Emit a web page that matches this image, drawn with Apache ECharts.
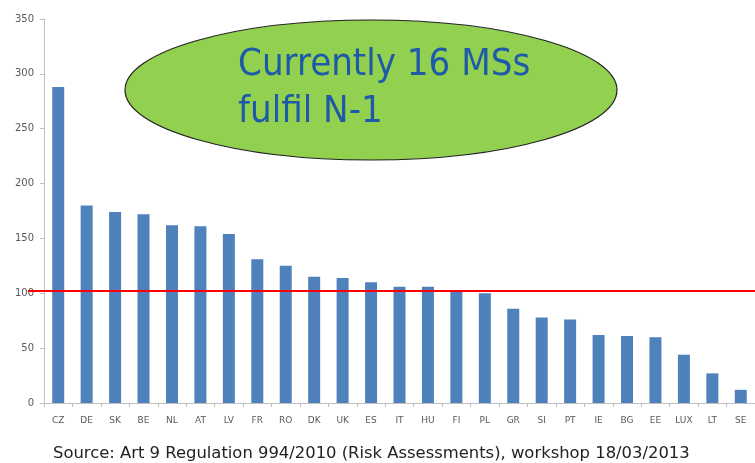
<!DOCTYPE html>
<html><head><meta charset="utf-8">
<script src="https://cdn.jsdelivr.net/npm/echarts@6/dist/echarts.min.js"></script>
<style>html,body{margin:0;padding:0;background:#fff}#c{width:755px;height:463px}</style>
</head><body><div id="c"></div>
<script>
const categories = ["CZ","DE","SK","BE","NL","AT","LV","FR","RO","DK","UK","ES","IT","HU","FI","PL","GR","SI","PT","IE","BG","EE","LUX","LT","SE"];
const values = [288,180,174,172,162,161,154,131,125,115,114,110,106,106,103,100,86,78,76,62,61,60,44,27,12];
const threshold = 102;
const yTicks = [0,50,100,150,200,250,300,350];
const noteLines = ["Currently 16 MSs","fulfil N-1"];
const sourceText = "Source: Art 9 Regulation 994/2010 (Risk Assessments), workshop 18/03/2013";

const chart = echarts.init(document.getElementById('c'), null, {renderer:'canvas'});
const wide = '"DejaVu Sans", Verdana, sans-serif';
const cond = '"DejaVu Sans Condensed", "DejaVu Sans", sans-serif';
chart.setOption({
  animation:false,
  grid:[
    {left:44, top:19, width:715, bottom:60, containLabel:false},
    {left:28, top:19, right:0, bottom:60, containLabel:false}
  ],
  xAxis:[
    {type:'category', data:categories, gridIndex:0,
     axisLine:{lineStyle:{color:'#BFBFBF'}},
     axisTick:{show:true, alignWithLabel:false, length:4, lineStyle:{color:'#BFBFBF'}},
     axisLabel:{color:'#595959', fontSize:9, fontFamily:wide, margin:13, interval:0}},
    {type:'value', gridIndex:1, min:0, max:1, show:false}
  ],
  yAxis:[
    {type:'value', gridIndex:0, min:yTicks[0], max:yTicks[yTicks.length-1], interval:50,
     axisLine:{show:true, lineStyle:{color:'#BFBFBF'}},
     axisTick:{show:true, length:4, inside:false, lineStyle:{color:'#BFBFBF'}},
     splitLine:{show:false},
     axisLabel:{color:'#595959', fontSize:10, fontFamily:wide, margin:10}},
    {type:'value', gridIndex:1, min:yTicks[0], max:yTicks[yTicks.length-1], show:false}
  ],
  series:[
    {type:'bar', data:values, xAxisIndex:0, yAxisIndex:0, barWidth:12,
     itemStyle:{color:'#4F81BD'}},
    {type:'line', data:[[0,threshold],[1,threshold]], xAxisIndex:1, yAxisIndex:1,
     symbol:'none', lineStyle:{color:'#FF0000', width:2}, z:5}
  ],
  graphic:[
    {type:'ellipse', shape:{cx:371, cy:90, rx:246, ry:70},
     style:{fill:'#92D050', stroke:'#222', lineWidth:1.2}, z:10},
    {type:'text', left:238, top:42, z:11,
     style:{text:noteLines.join('\n'), fill:'#1F5AA8', font:'38px ' + cond, lineHeight:47}},
    {type:'text', x:53, y:454, z:11,
     style:{text:sourceText, fill:'#222', font:'16.4px ' + wide, textVerticalAlign:'middle', verticalAlign:'middle'}}
  ]
});
</script></body></html>
